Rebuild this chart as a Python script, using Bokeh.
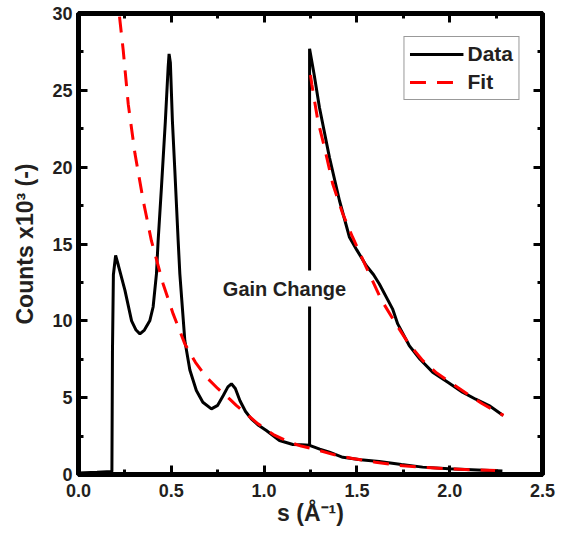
from bokeh.plotting import figure
from bokeh.models import (LinearAxis, SingleIntervalTicker, Legend, LegendItem,
                          Label, Range1d, NumeralTickFormatter)
from bokeh.embed import file_html
from bokeh.resources import INLINE

# ---- data ----
# measured counts, low-gain branch
low_s = [0.0, 0.10, 0.18, 0.183, 0.188, 0.200, 0.215, 0.25, 0.286, 0.31, 0.331,
         0.355, 0.384, 0.402, 0.420, 0.429, 0.447, 0.468, 0.483, 0.488, 0.495,
         0.506, 0.519, 0.537, 0.546, 0.573, 0.60, 0.635, 0.67, 0.716, 0.75,
         0.78, 0.805, 0.824, 0.845, 0.87, 0.90, 0.931, 0.97, 1.012, 1.083,
         1.155, 1.20, 1.245, 1.30, 1.352, 1.424, 1.52, 1.62, 1.74, 1.854,
         1.996, 2.15, 2.284]
low_counts = [0.1, 0.15, 0.2, 8.0, 13.0, 14.25, 13.6, 12.0, 10.0, 9.4, 9.15,
              9.4, 10.0, 10.9, 13.06, 15.2, 18.7, 23.0, 26.5, 27.37, 26.8,
              23.0, 19.8, 15.2, 13.06, 8.7, 6.8, 5.47, 4.7, 4.27, 4.5,
              5.14, 5.7, 5.9, 5.6, 4.8, 4.1, 3.62, 3.2, 2.86, 2.21,
              1.95, 1.93, 1.9, 1.65, 1.45, 1.12, 0.96, 0.85, 0.65, 0.48,
              0.37, 0.30, 0.22]
# measured counts, high-gain branch (after the gain change)
high_s = [1.245, 1.245, 1.27, 1.298, 1.352, 1.406, 1.46, 1.50, 1.55, 1.59,
          1.621, 1.692, 1.72, 1.782, 1.84, 1.908, 1.99, 2.069, 2.14, 2.212,
          2.288]
high_counts = [1.9, 27.7, 26.0, 23.9, 20.64, 17.83, 15.44, 14.6, 13.6, 13.0,
               12.4, 10.78, 9.8, 8.39, 7.5, 6.66, 6.0, 5.36, 4.9, 4.49,
               3.84]
# fit, low-gain branch
fit_low_s = [0.221, 0.241, 0.268, 0.304, 0.349, 0.393, 0.42, 0.456,
             0.51, 0.573, 0.63, 0.689, 0.75, 0.815, 0.85, 0.967, 1.05, 1.137,
             1.20, 1.262, 1.298, 1.38, 1.476, 1.60, 1.73, 1.86, 1.99, 2.14,
             2.29]
fit_low_counts = [29.8, 27.6, 24.1, 20.9, 17.8, 15.2, 14.0, 12.4,
                  10.45, 8.5, 7.3, 6.33, 5.6, 4.9, 4.5, 3.3, 2.6, 2.1,
                  1.85, 1.67, 1.56, 1.28, 1.04, 0.8, 0.59, 0.46, 0.37, 0.30,
                  0.25]
# fit, high-gain branch
fit_high_s = [1.25, 1.257, 1.29, 1.325, 1.37, 1.424, 1.477, 1.55, 1.63, 1.71,
              1.78, 1.854, 1.93, 2.015, 2.10, 2.176, 2.25, 2.29]
fit_high_counts = [26.0, 25.4, 23.0, 21.3, 18.9, 16.96, 15.44, 13.5, 11.4,
                   9.8, 8.5, 7.42, 6.6, 5.9, 5.2, 4.6, 4.1, 3.85]

x_ticks_interval = 0.5
y_ticks_interval = 5
annotation_text = "Gain Change"
annotation_s = 1.11
annotation_counts = 12.1

FONT = "Liberation Sans"
TXT = "#231f20"

p = figure(width=565, height=534, x_range=Range1d(0, 2.5), y_range=Range1d(0, 30),
           output_backend="svg", toolbar_location=None,
           min_border_left=78, min_border_right=23, min_border_top=13,
           min_border_bottom=60)
p.xgrid.visible = False
p.ygrid.visible = False
p.background_fill_color = "white"
p.border_fill_color = "white"
p.outline_line_color = "black"
p.outline_line_width = 5

p.add_layout(LinearAxis(), "above")
p.add_layout(LinearAxis(), "right")

xt = SingleIntervalTicker(interval=x_ticks_interval, num_minor_ticks=2)
yt = SingleIntervalTicker(interval=y_ticks_interval, num_minor_ticks=2)

for ax in p.xaxis:
    ax.ticker = xt
for ax in p.yaxis:
    ax.ticker = yt

for ax in p.xaxis + p.yaxis:
    ax.axis_line_color = "black"
    ax.axis_line_width = 5
    ax.major_tick_in = 9
    ax.major_tick_out = 0
    ax.minor_tick_in = 5
    ax.minor_tick_out = 0
    ax.major_tick_line_width = 3
    ax.minor_tick_line_width = 3
    ax.major_label_text_font = FONT
    ax.major_label_text_font_style = "bold"
    ax.major_label_text_font_size = "18px"
    ax.major_label_text_color = TXT

# top/right axes: ticks only, their labels not painted
for ax in (p.above[0], p.right[0]):
    ax.major_label_text_font_size = "8px"
    ax.major_label_text_color = None
    ax.major_label_standoff = 0

bx = p.below[0]
ly = p.left[0]
bx.formatter = NumeralTickFormatter(format="0.0")
bx.major_label_standoff = 9
ly.major_label_standoff = 6
bx.axis_label = "s (Å⁻¹)"
ly.axis_label = "Counts x10³ (-)"
for ax in (bx, ly):
    ax.axis_label_text_font = FONT
    ax.axis_label_text_font_style = "bold"
    ax.axis_label_text_font_size = "23px"
    ax.axis_label_text_color = TXT
bx.axis_label_standoff = 0
ly.axis_label_standoff = 11

r_low = p.line(low_s, low_counts, line_color="black", line_width=3)
r_high = p.line(high_s, high_counts, line_color="black", line_width=3)
r_fit_low = p.line(fit_low_s, fit_low_counts, line_color="#ff0000", line_width=3,
                   line_dash="16 11")
r_fit_high = p.line(fit_high_s, fit_high_counts, line_color="#ff0000", line_width=3,
                    line_dash="16 11")

lab = Label(x=annotation_s, y=annotation_counts, text=annotation_text,
            text_align="center", text_baseline="middle",
            text_font=FONT, text_font_style="bold", text_font_size="20px",
            text_color=TXT, background_fill_color="white", padding=7)
p.add_layout(lab)

legend = Legend(items=[LegendItem(label="Data", renderers=[r_low]),
                       LegendItem(label="Fit", renderers=[r_fit_low])],
                location="top_right", margin=23, padding=5, spacing=4,
                glyph_width=54, glyph_height=24, label_height=24,
                label_standoff=4,
                label_text_font=FONT, label_text_font_style="bold",
                label_text_font_size="21px", label_text_color=TXT,
                border_line_color="#333333", border_line_width=1,
                background_fill_color="white")
p.add_layout(legend)

open("out.html", "w").write(file_html(p, INLINE))
